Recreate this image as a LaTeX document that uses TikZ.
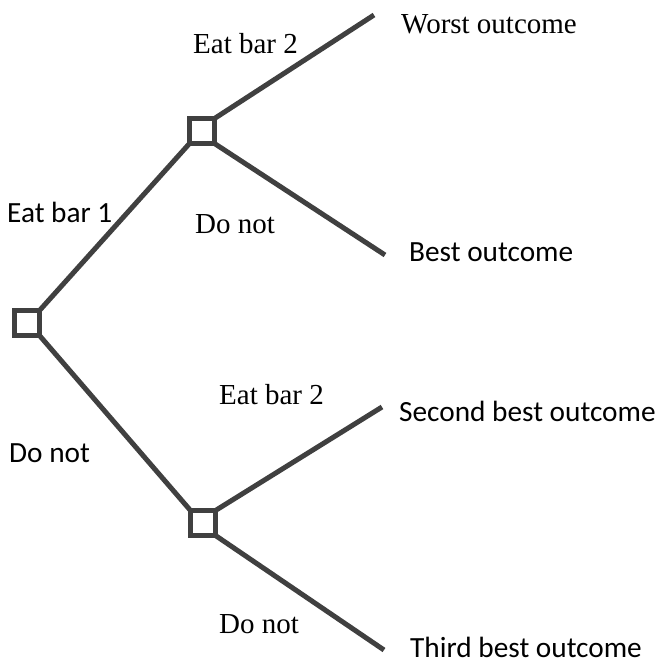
\documentclass[tikz,border=0pt]{standalone}
\usepackage{fontspec}
\setmainfont{Liberation Serif}
\newfontfamily\calib{Carlito}
\begin{document}
\begin{tikzpicture}[x=1pt,y=-1pt,
  dec/.style={draw=black!75,line width=5pt,minimum size=25pt,inner sep=0pt,outer sep=0pt},
  br/.style={draw=black!75,line width=5pt},
  lbs/.style={inner sep=0pt,anchor=base west,font=\fontsize{29}{31}\selectfont},
  lbc/.style={inner sep=0pt,anchor=base west,font=\calib\fontsize{29.3}{31}\selectfont}]
\useasboundingbox (0,0) rectangle (658,665);
\node[dec] (root) at (27,323) {};
\node[dec] (top) at (202,131) {};
\node[dec] (bot) at (203,523) {};
\coordinate (e1) at (374,15);
\coordinate (e2) at (385,255);
\coordinate (e3) at (382,407);
\coordinate (e4) at (384,650);
\draw[br] (root.north east) -- (top.south west);
\draw[br] (root.south east) -- (bot.north west);
\draw[br] (top.north east) -- (e1);
\draw[br] (top.south east) -- (e2);
\draw[br] (bot.north east) -- (e3);
\draw[br] (bot.south east) -- (e4);
\node[lbs] (w) at (401,33) {Worst outcome};
\node[lbs] (a2t) at (193,53) {Eat bar 2};
\node[lbc] (a1) at (7,222) {Eat bar 1};
\node[lbs] (dn1) at (195,233) {Do not};
\node[lbc] (b) at (409,261) {Best outcome};
\node[lbs] (a2b) at (219,404) {Eat bar 2};
\node[lbc] (s) at (399,421) {Second best outcome};
\node[lbc] (dn0) at (9,462) {Do not};
\node[lbs] (dn2) at (219,633) {Do not};
\node[lbc] (t) at (410,657) {Third best outcome};
\end{tikzpicture}
\end{document}
